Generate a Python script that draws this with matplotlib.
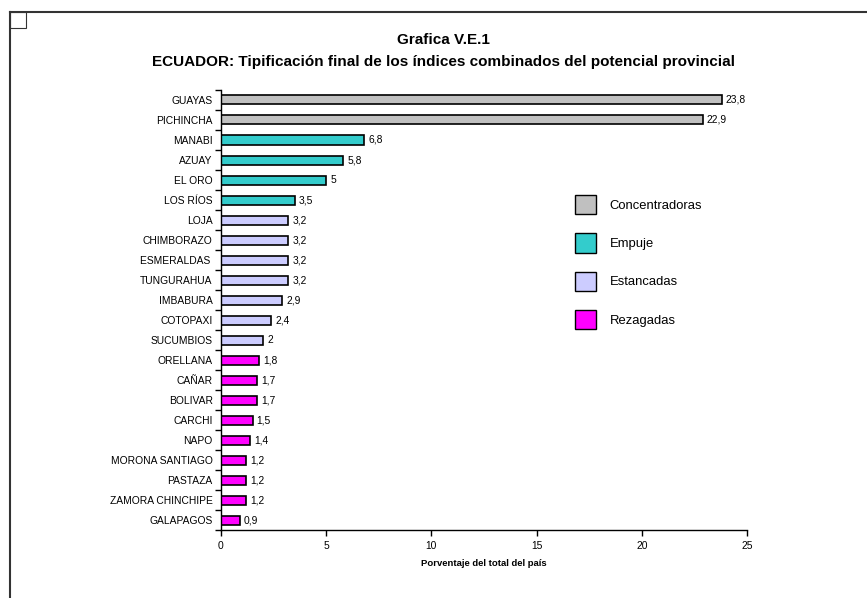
import matplotlib.pyplot as plt
from matplotlib.patches import Patch, Rectangle
from matplotlib.lines import Line2D

plt.rcParams['font.family'] = ['Liberation Sans', 'DejaVu Sans']

provincias = ['GUAYAS', 'PICHINCHA', 'MANABI', 'AZUAY', 'EL ORO', 'LOS RÍOS',
              'LOJA', 'CHIMBORAZO', 'ESMERALDAS ', 'TUNGURAHUA', 'IMBABURA',
              'COTOPAXI', 'SUCUMBIOS', 'ORELLANA', 'CAÑAR', 'BOLIVAR', 'CARCHI',
              'NAPO', 'MORONA SANTIAGO', 'PASTAZA', 'ZAMORA CHINCHIPE', 'GALAPAGOS']
valores = [23.8, 22.9, 6.8, 5.8, 5, 3.5, 3.2, 3.2, 3.2, 3.2, 2.9, 2.4, 2,
           1.8, 1.7, 1.7, 1.5, 1.4, 1.2, 1.2, 1.2, 0.9]
grupo = [0, 0, 1, 1, 1, 1, 2, 2, 2, 2, 2, 2, 2, 3, 3, 3, 3, 3, 3, 3, 3, 3]
grupos = ['Concentradoras', 'Empuje', 'Estancadas', 'Rezagadas']
colores = ['#C0C0C0', '#33CCCC', '#CCCCFF', '#FF00FF']

fig = plt.figure(figsize=(8.67, 5.98), dpi=100)
ax = fig.add_axes([0.2549, 0.1137, 0.6067, 0.7358])

n = len(provincias)
ypos = list(range(n))
ax.barh(ypos, valores, height=0.45, color=[colores[g] for g in grupo],
        edgecolor='black', linewidth=1.2)

for y, v in zip(ypos, valores):
    txt = ('%g' % v).replace('.', ',')
    ax.annotate(txt, (v, y), xytext=(3, 0), textcoords='offset points',
                va='center', ha='left', fontsize=7.4)

ax.set_ylim(n - 0.5, -0.5)
ax.set_xlim(0, 25)
ax.set_xticks([0, 5, 10, 15, 20, 25])
ax.set_yticks(ypos)
ax.set_yticklabels(provincias, fontsize=7.4)
ax.set_yticks([i - 0.5 for i in range(n + 1)], minor=True)
ax.tick_params(axis='y', which='major', length=0, pad=6)
ax.tick_params(axis='y', which='minor', length=4, width=1)
ax.tick_params(axis='x', length=4, width=1, labelsize=7.4, pad=4)
ax.spines['top'].set_visible(False)
ax.spines['right'].set_visible(False)
ax.spines['left'].set_linewidth(1)
ax.spines['bottom'].set_linewidth(1)
ax.set_xlabel('Porventaje del total del país', fontsize=6.8, fontweight='bold',
              labelpad=6)

fig.text(0.512, 0.933, 'Grafica V.E.1', ha='center', va='center',
         fontsize=11, fontweight='bold')
fig.text(0.512, 0.897, 'ECUADOR: Tipificación final de los índices combinados del potencial provincial',
         ha='center', va='center', fontsize=11, fontweight='bold')

handles = [Patch(facecolor=c, edgecolor='black', linewidth=1) for c in colores]
fig.legend(handles, grupos, loc='upper left', bbox_to_anchor=(575 / 867, 1 - 195 / 598),
           frameon=False, fontsize=9.4, handlelength=1.6, handleheight=1.9,
           labelspacing=1.45, handletextpad=1.05, borderpad=0, borderaxespad=0)

# marco exterior
fig.add_artist(Line2D([10 / 867, 10 / 867], [0, 1 - 12 / 598],
                      transform=fig.transFigure, color='#333333', linewidth=1.5))
fig.add_artist(Line2D([10 / 867, 1], [1 - 12 / 598, 1 - 12 / 598],
                      transform=fig.transFigure, color='#333333', linewidth=1.5))
fig.add_artist(Rectangle((10 / 867, 1 - 28 / 598), 16 / 867, 16 / 598,
                         transform=fig.transFigure, fill=False,
                         edgecolor='#333333', linewidth=0.8))

fig.savefig('out.png', dpi=100)
